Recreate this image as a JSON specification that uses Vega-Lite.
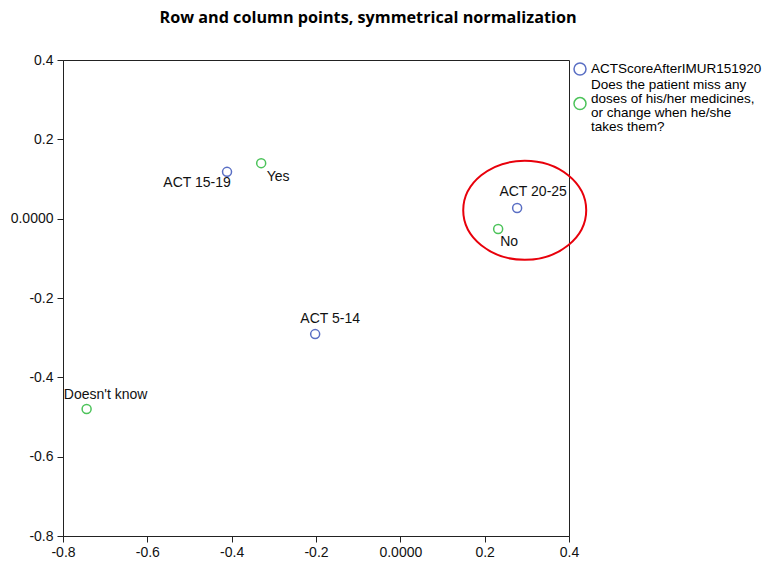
{
  "$schema": "https://vega.github.io/schema/vega-lite/v6.json",
  "width": 506,
  "height": 476,
  "autosize": "none",
  "padding": {"left": 63, "top": 60, "right": 200, "bottom": 25},
  "background": "white",
  "title": {
    "text": "Row and column points, symmetrical normalization",
    "font": "Open Sans",
    "fontSize": 16.2,
    "fontWeight": "bold",
    "color": "#000000",
    "anchor": "middle",
    "frame": "group",
    "dx": 52,
    "offset": 14,
    "baseline": "alphabetic"
  },
  "datasets": {
    "points": [
      {"label": "ACT 15-19", "series": "row", "x": -0.411, "y": 0.118},
      {"label": "ACT 20-25", "series": "row", "x": 0.277, "y": 0.027},
      {"label": "ACT 5-14", "series": "row", "x": -0.202, "y": -0.291},
      {"label": "Yes", "series": "col", "x": -0.330, "y": 0.140},
      {"label": "No", "series": "col", "x": 0.232, "y": -0.026},
      {"label": "Doesn't know", "series": "col", "x": -0.744, "y": -0.480}
    ],
    "highlight": [{"x": 0.295, "y": 0.021}]
  },
  "layer": [
    {
      "mark": {"type": "rule", "color": "#222222", "strokeWidth": 1},
      "encoding": {"x": {"datum": 0}}
    },
    {
      "mark": {"type": "rule", "color": "#222222", "strokeWidth": 1},
      "encoding": {"y": {"datum": 0}}
    },
    {
      "data": {"name": "points"},
      "transform": [{"filter": "datum.series == 'row'"}],
      "mark": {"type": "point", "filled": false, "size": 81, "strokeWidth": 1.5, "opacity": 1},
      "encoding": {
        "x": {
          "field": "x", "type": "quantitative",
          "scale": {"domain": [-0.8, 0.4], "nice": false, "zero": false},
          "axis": {
            "title": null, "grid": false,
            "values": [-0.8, -0.6, -0.4, -0.2, 0, 0.2, 0.4],
            "tickSize": 6, "labelPadding": 3,
            "labelExpr": "datum.value == 0 ? '0.0000' : (datum.value < 0 ? '-' : '') + format(abs(datum.value), '.1f')",
            "labelFont": "Liberation Sans", "labelFontSize": 14, "labelColor": "#111111",
            "domainColor": "#222222", "tickColor": "#222222",
            "labelFlush": false, "labelOverlap": false
          }
        },
        "y": {
          "field": "y", "type": "quantitative",
          "scale": {"domain": [-0.8, 0.4], "nice": false, "zero": false},
          "axis": {
            "title": null, "grid": false,
            "values": [-0.8, -0.6, -0.4, -0.2, 0, 0.2, 0.4],
            "tickSize": 6, "labelPadding": 4,
            "labelExpr": "datum.value == 0 ? '0.0000' : (datum.value < 0 ? '-' : '') + format(abs(datum.value), '.1f')",
            "labelFont": "Liberation Sans", "labelFontSize": 14, "labelColor": "#111111",
            "domainColor": "#222222", "tickColor": "#222222",
            "labelFlush": false, "labelOverlap": false
          }
        },
        "color": {
          "field": "series", "type": "nominal",
          "scale": {"domain": ["row"], "range": ["#5a6fc4"]},
          "legend": {
            "title": null,
            "orient": "none",
            "legendX": 510,
            "legendY": 2,
            "padding": 0,
            "symbolType": "circle",
            "symbolSize": 144,
            "symbolStrokeWidth": 1.5,
            "labelFont": "Liberation Sans",
            "labelFontSize": 13.5,
            "labelColor": "#000000",
            "labelLimit": 400,
            "labelOffset": 4,
            "labelExpr": "'ACTScoreAfterIMUR151920'"
          }
        }
      }
    },
    {
      "data": {"name": "points"},
      "transform": [{"filter": "datum.series == 'col'"}],
      "mark": {"type": "point", "filled": false, "size": 81, "strokeWidth": 1.5, "opacity": 1},
      "encoding": {
        "x": {"field": "x", "type": "quantitative"},
        "y": {"field": "y", "type": "quantitative"},
        "color": {
          "field": "series", "type": "nominal",
          "scale": {"domain": ["col"], "range": ["#4cc35a"]},
          "legend": {
            "title": null,
            "orient": "none",
            "legendX": 510,
            "legendY": 18,
            "padding": 0,
            "symbolType": "M-1,3.1A1,1,0,1,0,1,3.1A1,1,0,1,0,-1,3.1Z",
            "symbolSize": 144,
            "symbolStrokeWidth": 1.5,
            "labelFont": "Liberation Sans",
            "labelFontSize": 13.5,
            "labelColor": "#000000",
            "labelLimit": 400,
            "labelOffset": 4,
            "labelExpr": "['Does the patient miss any', 'doses of his/her medicines,', 'or change when he/she', 'takes them?']"
          }
        }
      }
    },
    {
      "data": {"name": "highlight"},
      "mark": {
        "type": "point",
        "shape": "M-1,0A1,0.805,0,1,0,1,0A1,0.805,0,1,0,-1,0Z",
        "size": 15129,
        "filled": false,
        "color": "#e8000b",
        "strokeWidth": 2,
        "opacity": 1
      },
      "encoding": {
        "x": {"field": "x", "type": "quantitative"},
        "y": {"field": "y", "type": "quantitative"}
      }
    },
    {
      "data": {"name": "points"},
      "transform": [{"filter": "datum.label == 'ACT 15-19'"}],
      "mark": {"type": "text", "dx": -30, "dy": 11, "align": "center", "baseline": "middle", "font": "Liberation Sans", "fontSize": 14, "color": "#111111"},
      "encoding": {"x": {"field": "x", "type": "quantitative"}, "y": {"field": "y", "type": "quantitative"}, "text": {"field": "label"}}
    },
    {
      "data": {"name": "points"},
      "transform": [{"filter": "datum.label == 'Yes'"}],
      "mark": {"type": "text", "dx": 17, "dy": 14, "align": "center", "baseline": "middle", "font": "Liberation Sans", "fontSize": 14, "color": "#111111"},
      "encoding": {"x": {"field": "x", "type": "quantitative"}, "y": {"field": "y", "type": "quantitative"}, "text": {"field": "label"}}
    },
    {
      "data": {"name": "points"},
      "transform": [{"filter": "datum.label == 'ACT 20-25'"}],
      "mark": {"type": "text", "dx": 16, "dy": -16, "align": "center", "baseline": "middle", "font": "Liberation Sans", "fontSize": 14, "color": "#111111"},
      "encoding": {"x": {"field": "x", "type": "quantitative"}, "y": {"field": "y", "type": "quantitative"}, "text": {"field": "label"}}
    },
    {
      "data": {"name": "points"},
      "transform": [{"filter": "datum.label == 'No'"}],
      "mark": {"type": "text", "dx": 11, "dy": 13, "align": "center", "baseline": "middle", "font": "Liberation Sans", "fontSize": 14, "color": "#111111"},
      "encoding": {"x": {"field": "x", "type": "quantitative"}, "y": {"field": "y", "type": "quantitative"}, "text": {"field": "label"}}
    },
    {
      "data": {"name": "points"},
      "transform": [{"filter": "datum.label == 'ACT 5-14'"}],
      "mark": {"type": "text", "dx": 15, "dy": -15, "align": "center", "baseline": "middle", "font": "Liberation Sans", "fontSize": 14, "color": "#111111"},
      "encoding": {"x": {"field": "x", "type": "quantitative"}, "y": {"field": "y", "type": "quantitative"}, "text": {"field": "label"}}
    },
    {
      "data": {"name": "points"},
      "transform": [{"filter": "datum.label == \"Doesn't know\""}],
      "mark": {"type": "text", "dx": 19, "dy": -14, "align": "center", "baseline": "middle", "font": "Liberation Sans", "fontSize": 14, "color": "#111111"},
      "encoding": {"x": {"field": "x", "type": "quantitative"}, "y": {"field": "y", "type": "quantitative"}, "text": {"field": "label"}}
    }
  ],
  "resolve": {"scale": {"color": "independent"}, "legend": {"color": "independent"}},
  "config": {
    "view": {"stroke": "#222222", "strokeWidth": 1},
    "axis": {"domainWidth": 1, "tickWidth": 1},
    "style": {"guide-label": {"lineHeight": 14}}
  }
}
